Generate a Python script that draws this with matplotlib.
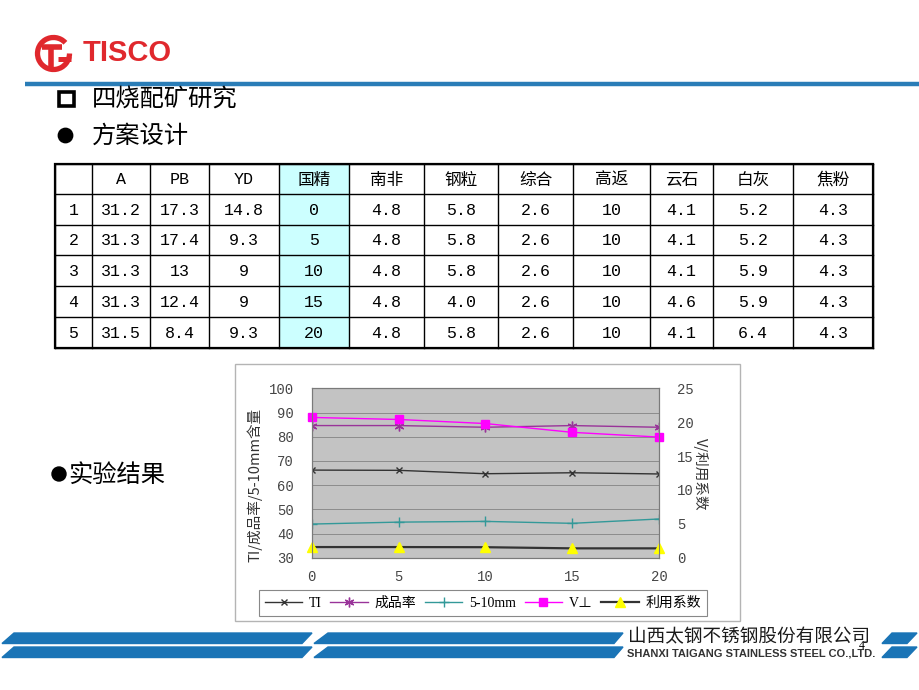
import matplotlib
matplotlib.use('Agg')
import matplotlib.pyplot as plt
from matplotlib.patches import Rectangle, Circle, Arc, Polygon
from matplotlib.font_manager import FontProperties

# ---- table data (方案设计) ----
row_ids = ['1', '2', '3', '4', '5']
col_names = ['A', 'PB', 'YD', '国精', '南非', '钢粒', '综合', '高返', '云石', '白灰', '焦粉']
col_A = ['31.2', '31.3', '31.3', '31.3', '31.5']
col_PB = ['17.3', '17.4', '13', '12.4', '8.4']
col_YD = ['14.8', '9.3', '9', '9', '9.3']
col_guojing = ['0', '5', '10', '15', '20']
col_nanfei = ['4.8', '4.8', '4.8', '4.8', '4.8']
col_gangli = ['5.8', '5.8', '5.8', '4.0', '5.8']
col_zonghe = ['2.6', '2.6', '2.6', '2.6', '2.6']
col_gaofan = ['10', '10', '10', '10', '10']
col_yunshi = ['4.1', '4.1', '4.1', '4.6', '4.1']
col_baihui = ['5.2', '5.2', '5.9', '5.9', '6.4']
col_jiaofen = ['4.3', '4.3', '4.3', '4.3', '4.3']

# ---- chart data (实验结果) ----
x_guojing = [0, 5, 10, 15, 20]
ti = [66.2, 66.1, 64.7, 65.1, 64.6]
yield_rate = [84.6, 84.6, 83.9, 84.6, 83.9]
mm_5_10 = [43.9, 44.7, 45.0, 44.2, 46.0]
v_speed = [20.7, 20.4, 19.8, 18.5, 17.8]
util_coef = [1.57, 1.57, 1.55, 1.38, 1.38]

W, H = 920, 690
fig = plt.figure(figsize=(W / 100, H / 100), dpi=100)
fig.patch.set_facecolor('white')

cjk = ['Noto Sans CJK SC', 'DejaVu Sans']
mono = ['Liberation Mono', 'Noto Sans CJK SC', 'DejaVu Sans']
serif = ['Liberation Serif', 'Noto Sans CJK SC', 'DejaVu Sans']

bg = fig.add_axes([0, 0, 1, 1])
bg.set_xlim(0, W)
bg.set_ylim(H, 0)
bg.axis('off')

# logo
red = '#e0282d'
bg.add_patch(Arc((53.5, 53.5), 32, 32, theta1=0, theta2=318, color=red, lw=3.8))
bg.plot([42, 62], [46.5, 46.5], color=red, lw=4, solid_capstyle='butt')
bg.plot([51, 51], [46, 67], color=red, lw=4, solid_capstyle='butt')
bg.plot([58, 71], [58.5, 58.5], color=red, lw=3.6, solid_capstyle='butt')
bg.text(83, 53, 'TISCO', color=red, fontsize=21, fontweight='bold',
        family='Liberation Sans', va='center', ha='left')
bg.plot([25, W], [83.5, 83.5], color='#2a7db7', lw=3.2, solid_capstyle='butt')

# headings
bg.add_patch(Rectangle((59.5, 91.5), 15, 14.5, fill=False, lw=2.6, color='black'))
bg.text(92, 99, '四烧配矿研究', fontsize=17.5, family=cjk, va='center', ha='left')
bg.add_patch(Circle((65.5, 135.5), 7.2, color='black'))
bg.text(92, 136, '方案设计', fontsize=17.5, family=cjk, va='center', ha='left')
bg.add_patch(Circle((59, 474), 7, color='black'))
bg.text(68, 475, '实验结果', fontsize=17.5, family=cjk, va='center', ha='left')

# table
xs = [55, 92, 150, 209, 279, 349, 424, 498, 573, 650, 713, 793, 873]
ys = [164, 194, 224.5, 255, 286, 317, 348]
bg.add_patch(Rectangle((xs[4], ys[0]), xs[5] - xs[4], ys[-1] - ys[0],
                       facecolor='#ccffff', edgecolor='none'))
for xv in xs:
    bg.plot([xv, xv], [ys[0], ys[-1]], color='black', lw=1.0)
for yv in ys:
    bg.plot([xs[0], xs[-1]], [yv, yv], color='black', lw=1.0)
bg.add_patch(Rectangle((xs[0], ys[0]), xs[-1] - xs[0], ys[-1] - ys[0],
                       fill=False, lw=1.6, color='black'))

columns = [col_A, col_PB, col_YD, col_guojing, col_nanfei, col_gangli,
           col_zonghe, col_gaofan, col_yunshi, col_baihui, col_jiaofen]
for j, name in enumerate(col_names):
    cx = (xs[j + 1] + xs[j + 2]) / 2
    fam = mono if name in ('A', 'PB', 'YD') else cjk
    bg.text(cx, (ys[0] + ys[1]) / 2 + 1, name, fontsize=12, family=fam,
            ha='center', va='center')
for i, rid in enumerate(row_ids):
    cy = (ys[i + 1] + ys[i + 2]) / 2 + 1
    bg.text((xs[0] + xs[1]) / 2, cy, rid, fontsize=12, family=mono,
            ha='center', va='center')
    for j, col in enumerate(columns):
        cx = (xs[j + 1] + xs[j + 2]) / 2
        bg.text(cx, cy, col[i], fontsize=12, family=mono,
                ha='center', va='center')

# chart frame
bg.add_patch(Rectangle((235, 364), 505, 257, fill=False, lw=1.0, color='#b4b4b4'))

# footer
blue = '#1a74b6'
for y0, y1 in [(633, 643.5), (647, 657.5)]:
    bg.add_patch(Polygon([(2, y1), (14, y0), (312, y0), (302, y1)],
                         closed=True, color=blue))
    bg.add_patch(Polygon([(314, y1), (328, y0), (623, y0), (614, y1)],
                         closed=True, color=blue))
    bg.add_patch(Polygon([(882, y1), (892, y0), (917, y0), (907, y1)],
                         closed=True, color=blue))
bg.text(628, 637.5, '山西太钢不锈钢股份有限公司', fontsize=13.4, family=cjk,
        color='#1a1a1a', va='center', ha='left')
bg.text(627, 654, 'SHANXI TAIGANG STAINLESS STEEL CO.,LTD.', fontsize=8,
        family='Liberation Sans', fontweight='bold', color='#333333',
        va='center', ha='left')
bg.text(862, 646, '4', fontsize=8.5, family=serif, va='center', ha='center')

# line chart
L, R, T, B = 311.7, 659, 388.3, 557.7
ax = fig.add_axes([L / W, 1 - B / H, (R - L) / W, (B - T) / H])
ax.set_facecolor('#c3c3c3')
ax.set_xlim(0, 20)
ax.set_ylim(30, 100)
ax.set_xticks([0, 5, 10, 15, 20])
ax.set_yticks([30, 40, 50, 60, 70, 80, 90, 100])
ax.grid(axis='y', color='#8c8c8c', lw=0.7)
ax.set_axisbelow(True)
for s in ax.spines.values():
    s.set_color('#7a7a7a')
    s.set_linewidth(0.8)
ax.tick_params(length=0, labelcolor='#454545', labelsize=10)
ax.tick_params(axis='y', pad=13)
ax.tick_params(axis='x', pad=9)
for lab in ax.get_xticklabels() + ax.get_yticklabels():
    lab.set_family(mono)

ax2 = ax.twinx()
ax2.set_ylim(0, 25)
ax2.set_yticks([0, 5, 10, 15, 20, 25])
ax2.tick_params(length=0, labelcolor='#454545', labelsize=10, pad=13)
for lab in ax2.get_yticklabels():
    lab.set_family(mono)
for s in ax2.spines.values():
    s.set_color('#7a7a7a')
    s.set_linewidth(0.8)

h1, = ax.plot(x_guojing, ti, color='#333333', lw=1.0, marker='x', ms=5,
              mew=1.0, label='TI')
h2, = ax.plot(x_guojing, yield_rate, color='#993399', lw=1.0, marker=(6, 2, 0),
              ms=7, mew=1.0, label='成品率')
h3, = ax.plot(x_guojing, mm_5_10, color='#339999', lw=1.0, marker='+', ms=7,
              mew=1.0, label='5-10mm')
h4, = ax2.plot(x_guojing, v_speed, color='#ff00ff', lw=1.0, marker='s', ms=5.5,
               label='V⊥', clip_on=False)
h5, = ax2.plot(x_guojing, util_coef, color='#333333', lw=1.6, marker='^', ms=7,
               mfc='#ffff00', mec='#ffff00', label='利用系数', clip_on=False)

fig.text(255 / W, 1 - 485 / H, 'TI/成品率/5-10mm含量', rotation=90, fontsize=10.5,
         family=cjk, color='#333333', ha='center', va='center')
fig.text(701 / W, 1 - 474 / H, 'V/利用系数', rotation=270, fontsize=10.5,
         family=cjk, color='#333333', ha='center', va='center')

leg = fig.legend([h1, h2, h3, h4, h5], ['TI', '成品率', '5-10mm', 'V⊥', '利用系数'],
                 loc='center', bbox_to_anchor=(483 / W, 1 - 603 / H), ncol=5,
                 prop=FontProperties(family=serif, size=10), fancybox=False,
                 edgecolor='#888888', framealpha=1, handlelength=2.7,
                 handletextpad=0.5, columnspacing=0.6, borderpad=0.45)
leg.get_frame().set_linewidth(0.8)

fig.savefig('out.png', dpi=100)
